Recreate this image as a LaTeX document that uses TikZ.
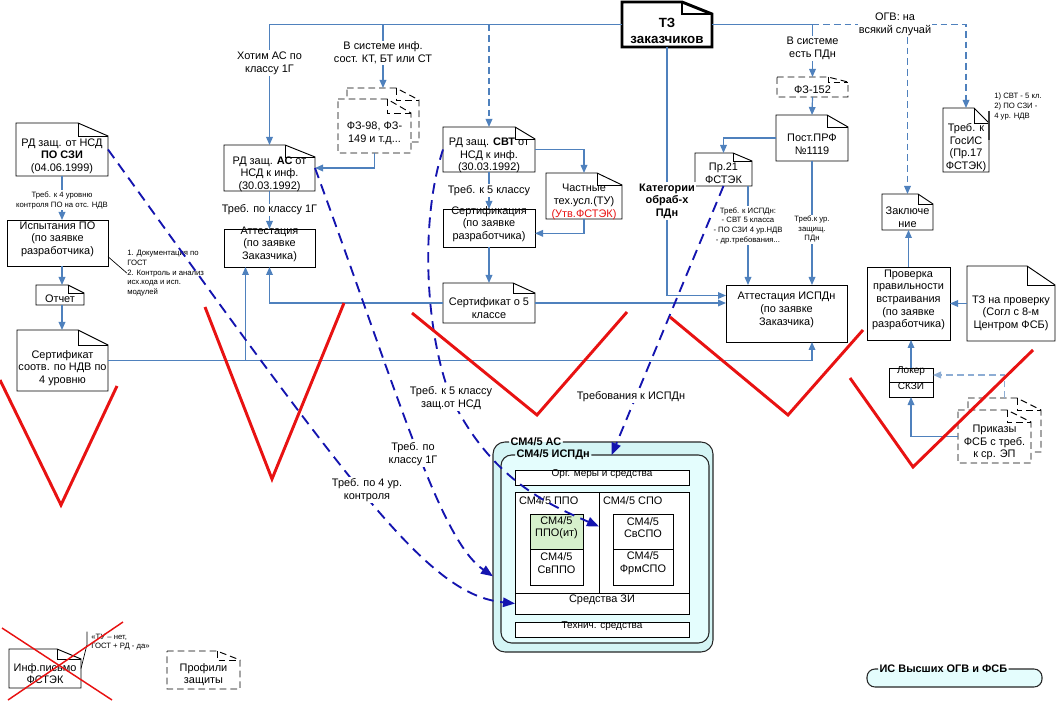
\documentclass[tikz,border=0pt]{standalone}
\usepackage{fontspec}
\setmainfont{Liberation Sans}
\usetikzlibrary{arrows.meta,calc,fit}
\definecolor{lb}{RGB}{79,129,189}
\definecolor{nv}{RGB}{20,20,175}
\definecolor{rd}{RGB}{232,18,18}
\definecolor{cyo}{RGB}{212,245,245}
\definecolor{cyi}{RGB}{228,253,253}
\definecolor{grn}{RGB}{214,240,204}
\newcommand\fmain{\fontsize{8.2}{9.5}\selectfont}
\newcommand\fsmall{\fontsize{5.8}{7.3}\selectfont}
\newcommand\fthin{\fontsize{7.5}{9}\selectfont}
% \docnode[shape opts]{name}{x1,y1}{x2,y2}{fold w}{fold h}{text}
\newcommand\docnode[7][]{%
  \node[bx,fit={(#3)(#4)}] (#2) {};
  \draw[docline,fill=white,#1] (#2.north west) -- ($(#2.north east)+(-#5,0)$) -- ($(#2.north east)+(0,#6)$) -- (#2.south east) -- (#2.south west) -- cycle;
  \draw[docline,#1] ($(#2.north east)+(-#5,0)$) |- ($(#2.north east)+(0,#6)$);
  \node[bx] (#2t) at ($(#2.center)+(0,#6/2)$) {#7};}
\begin{document}
\begin{tikzpicture}[x=0.75pt,y=-0.75pt,
  docline/.style={draw=black,line width=0.7pt},
  bx/.style={inner sep=0pt,outer sep=0pt,align=center,font=\fmain},
  rbox/.style={bx,draw=black,line width=0.7pt,fill=white},
  sbox/.style={inner sep=0pt,outer sep=0pt,draw=black,line width=0.7pt,fill=white,font=\fthin},
  conn/.style={draw=lb,line width=0.9pt,-{Triangle[length=6pt,width=5pt]}},
  lbl/.style={fill=white,inner sep=1pt,align=center,font=\fmain},
  slbl/.style={fill=white,inner sep=1pt,align=center,font=\fsmall},
  ann/.style={inner sep=0pt,align=left,font=\fsmall},
  nvd/.style={draw=nv,line width=1.4pt,dash pattern=on 8pt off 5pt,-{Triangle[length=9pt,width=7pt]}},
  redv/.style={draw=rd,line width=2.2pt,line join=miter},
  dsh/.style={dash pattern=on 5pt off 3pt},
  cont/.style={draw=black!85,line width=0.8pt},
  contlbl/.style={inner sep=1pt,font=\fmain\bfseries}
]
\useasboundingbox (0,0) rectangle (1057,702);

% ---------- left column
\docnode{a1}{16,123}{108,176}{30}{13}{РД защ. от НСД\\\textbf{ПО СЗИ}\\(04.06.1999)}
\node[rbox,fit={(7,220)(108,266)}] (a2) {Испытания ПО\\(по заявке\\разработчика)};
\docnode{otch}{36,285}{84,305}{16}{8}{Отчет}
\docnode{a3}{17,330}{108,391}{30}{15}{Сертификат\\соотв. по НДВ по\\4 уровню}
\node[ann,anchor=north west] (ann1) at (127,250) {1. Документация по\\ГОСТ\\2. Контроль и анализ\\исх.кода и исп.\\модулей};

% ---------- AS column
\docnode{rdas}{224,145}{315,191}{30}{12}{РД защ. \textbf{АС} от\\НСД к инф.\\(30.03.1992)}
\node[rbox,fit={(224,229)(315,267)}] (att) {Аттестация\\(по заявке\\Заказчика)};
\docnode[dsh]{fzb}{347,88}{419,142}{23}{12}{}
\docnode[dsh]{fz}{338,99}{411,153}{24}{14}{ФЗ-98, ФЗ-\\149 и т.д...}

% ---------- SVT column
\docnode{rdsvt}{443,127}{535,172}{20}{12}{РД защ. \textbf{СВТ} от\\НСД к инф.\\(30.03.1992)}
\docnode{chast}{546,173}{622,219}{25}{12}{Частные\\тех.усл.(ТУ)\\\textcolor{rd}{(Утв.ФСТЭК)}}
\node[rbox,fit={(443,209)(535,247)}] (sert) {Сертификация\\(по заявке\\разработчика)};
\docnode{cert5}{443,283}{535,323}{22}{10}{Сертификат о 5\\классе}

% ---------- TZ
\node[bx,fit={(622,2)(712,47)}] (tz) {};
\draw[docline,line width=2.2pt,fill=white] (tz.north west) -- ($(tz.north east)+(-30,0)$) -- ($(tz.north east)+(0,12)$) -- (tz.south east) -- (tz.south west) -- cycle;
\draw[docline,line width=2.2pt] ($(tz.north east)+(-30,0)$) |- ($(tz.north east)+(0,12)$);
\node[bx,font=\fontsize{10}{12}\selectfont\bfseries] (tzt) at ($(tz.center)+(0,6)$) {ТЗ\\заказчиков};

% ---------- PDn column
\docnode[dsh]{fz152}{777,77}{848,97}{20}{5}{ФЗ-152}
\docnode{post}{776,115}{848,161}{21}{12}{Пост.ПРФ\\№1119}
\docnode{pr21}{695,153}{752,186}{19}{8}{Пр.21\\ФСТЭК}
\node[rbox,fit={(726,285)(847,342)}] (atti) {Аттестация ИСПДн\\(по заявке\\Заказчика)};

% ---------- far right
\docnode{gos}{943,108}{989,172}{15}{15}{Треб. к\\ГосИС\\(Пр.17\\ФСТЭК)}
\node[ann,anchor=north west] (ann2) at (994,93) {1) СВТ - 5 кл.\\2) ПО СЗИ -\\4 ур. НДВ};
\docnode{zakl}{882,194}{933,230}{15}{10}{Заключе\\ние}
\node[rbox,fit={(867,267)(950,340)}] (prov) {Проверка\\правильности\\встраивания\\(по заявке\\разработчика)};
\docnode{tzp}{967,266}{1055,341}{28}{19}{ТЗ на проверку\\(Согл с 8-м\\Центром ФСБ)}
\node[sbox,fit={(889,368)(933,382)}] (lok) {Локер};
\node[sbox,fit={(889,382)(933,397)}] (skzi) {СКЗИ};
\docnode[dsh]{prb}{968,398}{1041,452}{24}{12}{}
\docnode[dsh]{prk}{958,410}{1031,463}{24}{12}{Приказы\\ФСБ с треб.\\к ср. ЭП}

% ---------- SM4/5 containers
\node[bx,fit={(493,442)(713,652)}] (asbox) {};
\fill[cyo,rounded corners=9pt] (asbox.north west) rectangle (asbox.south east);
\node[bx,fit={(501,455)(709,643)}] (isbox) {};
\fill[cyi,rounded corners=8pt] (isbox.north west) rectangle (isbox.south east);
\node[contlbl,anchor=west] (asl) at (509,442) {СМ4/5 АС};
\draw[cont,rounded corners=9pt] (asl.east) -- (asbox.north east) -- (asbox.south east) -- (asbox.south west) -- (asbox.north west) -- (asl.west);
\node[contlbl,anchor=west] (isl) at (515,455) {СМ4/5 ИСПДн};
\draw[cont,rounded corners=8pt] (isl.east) -- (isbox.north east) -- (isbox.south east) -- (isbox.south west) -- (isbox.north west) -- (isl.west);
\node[sbox,fit={(515,470)(689,485)}] (org) {Орг. меры и средства};
\node[rbox,fit={(515,492)(689,614)}] (big) {};
\node[bx,fit={(515,492)(599,593)}] (ppo) {};
\node[bx,fit={(599,492)(689,593)}] (spo) {};
\draw[docline] (ppo.north east) -- (ppo.south east);
\draw[docline] (ppo.south west) -- (spo.south east);
\node[bx,anchor=north west] (ppol) at (519,497) {СМ4/5 ППО};
\node[bx,anchor=north west] (spol) at (603,497) {СМ4/5 СПО};
\node[rbox,fill=grn,fit={(530,514)(583,549)}] (ppoit) {СМ4/5\\ППО(ит)};
\node[rbox,fit={(530,549)(583,585)}] (svppo) {СМ4/5\\СвППО};
\node[rbox,fit={(613,514)(673,549)}] (svspo) {СМ4/5\\СвСПО};
\node[rbox,fit={(613,549)(673,585)}] (frm) {СМ4/5\\ФрмСПО};
\node[sbox,draw=none,fill=none,font=\fmain,fit={(515,593)(689,614)}] (zi) {Средства ЗИ};
\node[sbox,fit={(515,622)(689,637)}] (tech) {Технич. средства};

% ---------- bottom
\docnode{inf}{9,649}{81,688}{24}{10}{Инф.письмо\\ФСТЭК}
\node[ann,anchor=west] (ann3) at (91,642) {«ТУ – нет,\\ГОСТ + РД - да»};
\draw[line width=0.5pt] (inf.east) -- ++(6,-24) -- ++(0,-13);
\docnode[dsh]{prof}{167,651}{240,689}{23}{9}{Профили\\защиты}
\node[bx,fit={(867,669)(1042,687)}] (isv) {};
\fill[cyi,rounded corners=6pt] (isv.north west) rectangle (isv.south east);
\node[contlbl,anchor=west] (isvl) at (878,669) {ИС Высших ОГВ и ФСБ};
\draw[cont,rounded corners=6pt] (isvl.east) -- (isv.north east) -- (isv.south east) -- (isv.south west) -- (isv.north west) -- (isvl.west);

% ---------- connectors
\coordinate (attb) at ($(att.south)+(-24,0)$);
\coordinate (p21b) at ($(pr21.south east)+(-4,0)$);
\draw[conn] (a1.south) -- (a1.south |- a2.north) node[slbl,pos=0.55] (l1) {Треб. к 4 уровню\\контроля ПО на отс. НДВ};
\draw[conn] (a1.south |- a2.south) -- (a1.south |- otch.north);
\draw[conn] (a1.south |- otch.south) -- (a1.south |- a3.north);
\draw[line width=0.5pt] ([yshift=7pt]a2.south east) -- (ann1.west);
\draw[conn] (tz.west) -| (rdas.north) node[lbl,pos=0.66] (l2) {Хотим АС по\\классу 1Г};
\draw[conn] (tz.west -| fzb.north) -- (fzb.north) node[lbl,pos=0.45] (l3) {В системе инф.\\сост. КТ, БТ или СТ};
\draw[conn,dsh] (tz.west -| rdsvt.north) -- (rdsvt.north);
\draw[conn] (fz.south) |- (rdas.east);
\draw[conn] (rdas.south) -- (att.north) node[lbl,midway] (l4) {Треб. по классу 1Г};
\draw[conn] (rdsvt.south) -- (sert.north) node[lbl,midway] (l5) {Треб. к 5 классу};
\draw[conn] (rdsvt.east) -| (chast.north);
\draw[conn] (chast.south) |- ([yshift=-4pt]sert.east);
\draw[conn] (sert.south) -- (cert5.north);
\draw[conn] (cert5.west) -| (att.south);
\draw[conn] (cert5.east) -- (cert5.east -| atti.west);
\draw[conn] (a3.east) -| (post.south |- atti.south);
\draw[conn] (attb |- a3.east) -- (attb);
\draw[conn] (tz.south) |- ([yshift=13.5pt]atti.west) node[lbl,font=\fmain\bfseries,pos=0.31] (l6) {Категории\\обраб-х\\ПДн};
\draw[conn] (tz.east) -| (fz152.north) node[lbl,pos=0.73] (l7) {В системе\\есть ПДн};
\draw[conn,dsh] (tz.east -| fz152.north) -| (gos.north);
\node[lbl] (ogv) at (895,24) {ОГВ: на\\всякий случай};
\draw[conn,dsh] (ogv.south -| zakl.north) -- (zakl.north);
\draw[conn] (fz152.south) -- (post.north);
\draw[conn] (post.west) -| (pr21.north);
\draw[conn] (p21b) -- (p21b |- atti.north) node[slbl,pos=0.4] (l8) {Треб. к ИСПДн:\\- СВТ 5 класса\\- ПО СЗИ 4 ур.НДВ\\- др.требования...};
\draw[conn] (post.south) -- (post.south |- atti.north) node[slbl,pos=0.55] (l9) {Треб.к ур.\\защищ.\\ПДн};
\draw[line width=1.6pt,black!75] ([yshift=-2pt]gos.north east) -- ([yshift=-24pt]gos.north east);
\draw[conn] (prov.north) -- (prov.north |- zakl.south);
\draw[conn] (tzp.west) -- (tzp.west -| prov.east);
\draw[conn] (lok.north) -- (lok.north |- prov.south);
\draw[conn] (prk.west) -| (skzi.south);
\draw[conn,dsh,draw=lb!65] (prb.north) |- (lok.east);

% ---------- navy dashed requirement lines
\draw[nvd] (a1.east) .. controls (360,500) and (430,595) .. (zi.west);
\draw[nvd] (rdas.east) .. controls (400,400) and (440,540) .. ([yshift=-22pt]asbox.west);
\draw[nvd] (rdsvt.west) .. controls (420,220) and (425,330) .. (450,395) .. controls (490,480) and (550,505) .. ([yshift=12pt]ppo.east);
\draw[nvd] (pr21.south) -- ([xshift=5pt]isbox.north);
\node[lbl] (l10) at (451,398) {Треб. к 5 классу\\защ.от НСД};
\node[lbl] (l11) at (413,454) {Треб. по\\классу 1Г};
\node[lbl] (l12) at (367,490) {Треб. по 4 ур.\\контроля};
\node[lbl] (l13) at (631,397) {Требования к ИСПДн};

% ---------- red marks
\draw[redv] (0,380) -- (61,505) -- (117,386);
\draw[redv] (205,307) -- (272,479) -- (344,303);
\draw[redv] (412,313) -- (537,415) -- (627,312);
\draw[redv] (670,317) -- (788,415) -- (863,330);
\draw[redv] (850,378) -- (913,467) -- (1033,350);
\draw[draw=rd,line width=1.1pt] (2,628) -- (112,700);
\draw[draw=rd,line width=1.1pt] (8,700) -- (123,622);
\end{tikzpicture}
\end{document}
